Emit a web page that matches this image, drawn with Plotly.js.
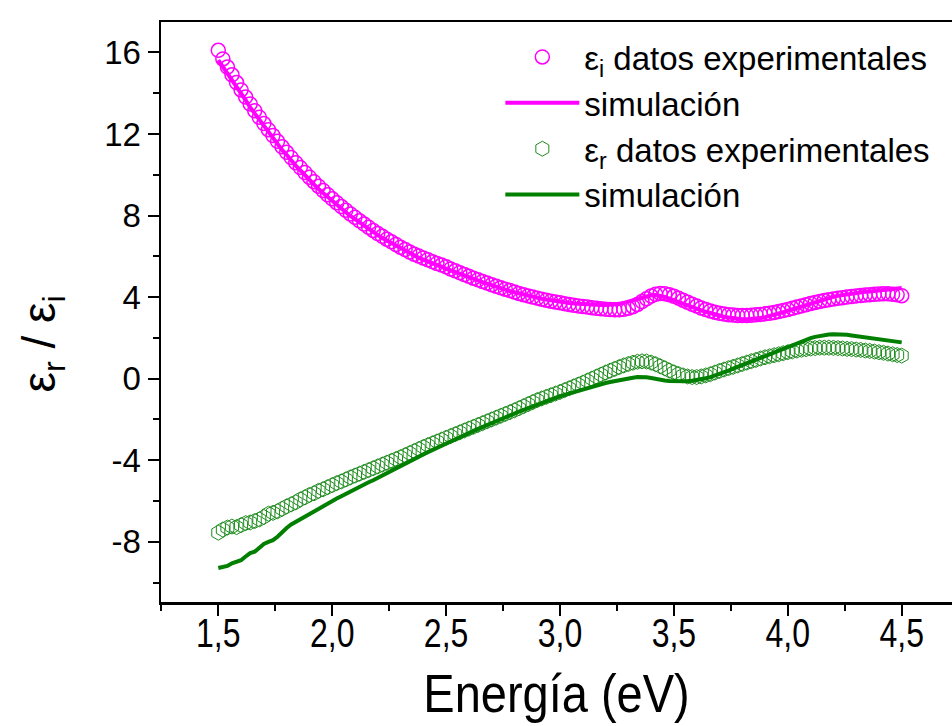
<!DOCTYPE html>
<html>
<head>
<meta charset="utf-8">
<script src="https://cdn.plot.ly/plotly-3.0.1.min.js"></script>
<style>html,body{margin:0;padding:0;background:#fff;}#chart{width:952px;height:726px;}</style>
</head>
<body>
<div id="chart"></div>
<script>
// Photon energy (eV)
const energy = [
1.50,1.52,1.54,1.56,1.58,1.60,1.62,1.64,1.66,1.68,
1.70,1.72,1.74,1.76,1.78,1.80,1.82,1.84,1.86,1.88,
1.90,1.92,1.94,1.96,1.98,2.00,2.02,2.04,2.06,2.08,
2.10,2.12,2.14,2.16,2.18,2.20,2.22,2.24,2.26,2.28,
2.30,2.32,2.34,2.36,2.38,2.40,2.42,2.44,2.46,2.48,
2.50,2.52,2.54,2.56,2.58,2.60,2.62,2.64,2.66,2.68,
2.70,2.72,2.74,2.76,2.78,2.80,2.82,2.84,2.86,2.88,
2.90,2.92,2.94,2.96,2.98,3.00,3.02,3.04,3.06,3.08,
3.10,3.12,3.14,3.16,3.18,3.20,3.22,3.24,3.26,3.28,
3.30,3.32,3.34,3.36,3.38,3.40,3.42,3.44,3.46,3.48,
3.50,3.52,3.54,3.56,3.58,3.60,3.62,3.64,3.66,3.68,
3.70,3.72,3.74,3.76,3.78,3.80,3.82,3.84,3.86,3.88,
3.90,3.92,3.94,3.96,3.98,4.00,4.02,4.04,4.06,4.08,
4.10,4.12,4.14,4.16,4.18,4.20,4.22,4.24,4.26,4.28,
4.30,4.32,4.34,4.36,4.38,4.40,4.42,4.44,4.46,4.48,
4.50];

// epsilon_i experimental
const epsI_exp = [
16.10,15.68,15.28,14.90,14.52,14.16,13.81,13.47,13.14,12.82,
12.51,12.21,11.92,11.64,11.37,11.10,10.84,10.59,10.35,10.11,
9.88,9.66,9.44,9.23,9.02,8.82,8.63,8.44,8.26,8.08,
7.91,7.74,7.58,7.42,7.27,7.12,6.98,6.84,6.71,6.58,
6.45,6.33,6.21,6.10,6.01,5.92,5.83,5.74,5.65,5.57,
5.49,5.38,5.29,5.20,5.11,5.02,4.93,4.85,4.77,4.69,
4.61,4.53,4.46,4.39,4.32,4.25,4.18,4.12,4.06,4.00,
3.95,3.90,3.85,3.80,3.76,3.72,3.68,3.64,3.60,3.57,
3.54,3.51,3.48,3.45,3.43,3.41,3.39,3.38,3.38,3.40,
3.45,3.53,3.64,3.78,3.92,4.05,4.14,4.18,4.17,4.12,
4.04,3.95,3.85,3.75,3.65,3.56,3.47,3.39,3.32,3.26,
3.21,3.17,3.14,3.12,3.10,3.10,3.10,3.11,3.13,3.15,
3.18,3.21,3.25,3.29,3.34,3.39,3.45,3.51,3.57,3.63,
3.69,3.74,3.79,3.83,3.87,3.91,3.94,3.97,4.00,4.03,
4.06,4.08,4.10,4.12,4.14,4.15,4.16,4.16,4.14,4.11,
4.07];

// epsilon_i simulation
const epsI_sim = [
15.62,15.30,14.98,14.70,14.30,13.98,13.66,13.30,13.00,12.72,
12.36,12.08,11.80,11.50,11.22,10.98,10.70,10.45,10.22,9.98,
9.74,9.54,9.30,9.10,8.90,8.70,8.52,8.32,8.16,7.98,
7.82,7.64,7.50,7.33,7.20,7.04,6.90,6.78,6.64,6.52,
6.38,6.28,6.15,6.05,5.93,5.84,5.74,5.66,5.56,5.49,
5.40,5.31,5.23,5.14,5.06,4.97,4.89,4.81,4.73,4.66,
4.58,4.51,4.44,4.37,4.30,4.24,4.18,4.12,4.07,4.01,
3.97,3.92,3.88,3.84,3.80,3.77,3.74,3.71,3.69,3.67,
3.65,3.63,3.62,3.61,3.61,3.61,3.62,3.64,3.67,3.72,
3.78,3.85,3.93,4.00,4.06,4.09,4.10,4.07,4.01,3.93,
3.84,3.75,3.66,3.57,3.49,3.42,3.35,3.28,3.21,3.15,
3.09,3.04,3.00,2.96,2.94,2.92,2.92,2.93,2.95,2.98,
3.02,3.07,3.13,3.19,3.26,3.33,3.40,3.48,3.56,3.63,
3.70,3.77,3.84,3.90,3.96,4.01,4.06,4.10,4.14,4.17,
4.20,4.23,4.26,4.28,4.31,4.33,4.36,4.38,4.41,4.43,
4.45];

// epsilon_r experimental
const epsR_exp = [
-7.55,-7.40,-7.30,-7.25,-7.28,-7.18,-7.08,-7.05,-6.98,-6.90,
-6.78,-6.62,-6.58,-6.50,-6.38,-6.26,-6.16,-6.06,-5.92,-5.82,
-5.70,-5.62,-5.50,-5.42,-5.32,-5.22,-5.12,-5.04,-4.94,-4.84,
-4.75,-4.66,-4.57,-4.48,-4.39,-4.30,-4.21,-4.12,-4.03,-3.94,
-3.85,-3.75,-3.65,-3.55,-3.45,-3.35,-3.26,-3.17,-3.08,-2.99,
-2.90,-2.81,-2.72,-2.63,-2.54,-2.45,-2.36,-2.27,-2.18,-2.09,
-2.00,-1.91,-1.82,-1.73,-1.64,-1.55,-1.45,-1.35,-1.25,-1.15,
-1.05,-0.97,-0.89,-0.81,-0.73,-0.65,-0.56,-0.47,-0.38,-0.29,
-0.20,-0.10,0.00,0.10,0.20,0.30,0.39,0.48,0.57,0.65,
0.72,0.78,0.83,0.85,0.84,0.79,0.71,0.61,0.51,0.40,
0.31,0.23,0.16,0.11,0.08,0.08,0.11,0.16,0.22,0.30,
0.38,0.45,0.52,0.58,0.65,0.72,0.79,0.86,0.92,0.99,
1.05,1.10,1.15,1.20,1.25,1.30,1.34,1.38,1.42,1.45,
1.48,1.50,1.52,1.52,1.52,1.51,1.50,1.48,1.46,1.45,
1.43,1.41,1.38,1.36,1.33,1.30,1.27,1.23,1.20,1.16,
1.13];

// epsilon_r simulation
const epsR_sim = [
-9.28,-9.25,-9.18,-9.05,-8.98,-8.90,-8.72,-8.55,-8.48,-8.30,
-8.10,-8.00,-7.92,-7.75,-7.52,-7.32,-7.15,-7.02,-6.92,-6.78,
-6.62,-6.48,-6.38,-6.24,-6.10,-5.98,-5.88,-5.76,-5.64,-5.52,
-5.42,-5.30,-5.20,-5.08,-4.98,-4.86,-4.74,-4.63,-4.52,-4.40,
-4.28,-4.17,-4.05,-3.94,-3.82,-3.71,-3.60,-3.49,-3.38,-3.27,
-3.16,-3.06,-2.96,-2.86,-2.76,-2.66,-2.56,-2.46,-2.36,-2.26,
-2.16,-2.07,-1.98,-1.89,-1.80,-1.71,-1.62,-1.53,-1.44,-1.35,
-1.26,-1.18,-1.10,-1.02,-0.94,-0.86,-0.79,-0.72,-0.65,-0.58,
-0.51,-0.45,-0.39,-0.33,-0.27,-0.21,-0.16,-0.11,-0.07,-0.03,
0.01,0.05,0.08,0.09,0.07,0.03,-0.02,-0.06,-0.09,-0.11,
-0.12,-0.13,-0.13,-0.12,-0.10,-0.07,-0.03,0.02,0.08,0.15,
0.23,0.31,0.40,0.49,0.58,0.67,0.76,0.85,0.94,1.03,
1.12,1.21,1.30,1.39,1.48,1.57,1.66,1.75,1.84,1.92,
1.99,2.05,2.10,2.14,2.17,2.18,2.18,2.17,2.15,2.12,
2.09,2.05,2.01,1.97,1.94,1.91,1.88,1.85,1.82,1.80,
1.78];

const xTickVals = [1.5, 2.0, 2.5, 3.0, 3.5, 4.0, 4.5];
const xTickText = ['1,5', '2,0', '2,5', '3,0', '3,5', '4,0', '4,5'];
const yTickVals = [-8, -4, 0, 4, 8, 12, 16];
const yTickText = ['-8', '-4', '0', '4', '8', '12', '16'];

const seriesNames = [
  'ε<sub>i</sub> datos experimentales',
  'simulación',
  'ε<sub>r</sub> datos experimentales',
  'simulación'
];

const MAGENTA = '#FF00FF';
const GREEN = '#007F00';
const HEXGREEN = '#1E8C1E';
const FONT = 'Liberation Sans, Arial, sans-serif';

const traces = [
  {x: energy, y: epsI_exp, name: seriesNames[0], type: 'scatter', mode: 'markers',
   marker: {symbol: 'circle-open', size: 14, color: MAGENTA, line: {width: 1.5, color: MAGENTA}}},
  {x: energy, y: epsI_sim, name: seriesNames[1], type: 'scatter', mode: 'lines',
   line: {color: MAGENTA, width: 4}},
  {x: energy, y: epsR_exp, name: seriesNames[2], type: 'scatter', mode: 'markers',
   marker: {symbol: 'hexagon-open', size: 15, color: HEXGREEN, line: {width: 1, color: HEXGREEN}}},
  {x: energy, y: epsR_sim, name: seriesNames[3], type: 'scatter', mode: 'lines',
   line: {color: GREEN, width: 4}}
];

const layout = {
  width: 952, height: 726,
  margin: {l: 161, r: 0, t: 22, b: 124, pad: 0},
  paper_bgcolor: '#fff', plot_bgcolor: '#fff',
  showlegend: true,
  legend: {x: 0.429, y: 0.988, xanchor: 'left', yanchor: 'top', bgcolor: 'rgba(0,0,0,0)',
           itemwidth: 74, font: {family: FONT, size: 33, color: '#000'}, traceorder: 'normal'},
  xaxis: {
    range: [1.2485, 4.7208], showgrid: false, zeroline: false,
    showline: true, linecolor: '#000', linewidth: 2.5, mirror: true,
    ticks: 'outside', ticklen: 11, tickwidth: 2, tickcolor: '#000',
    tickmode: 'array', tickvals: xTickVals, ticktext: xTickText,
    tickfont: {family: FONT, size: 40, color: '#000'}, ticklabelstandoff: -16,
    minor: {ticks: 'outside', ticklen: 6, tickwidth: 2, tickcolor: '#000', dtick: 0.25, tick0: 0, showgrid: false},
    title: {text: 'Energía (eV)', font: {family: FONT, size: 54, color: '#000'}, standoff: 20}
  },
  yaxis: {
    range: [-10.95, 17.49], showgrid: false, zeroline: false,
    showline: true, linecolor: '#000', linewidth: 2.5,
    ticks: 'outside', ticklen: 11, tickwidth: 2, tickcolor: '#000',
    tickmode: 'array', tickvals: yTickVals, ticktext: yTickText,
    tickfont: {family: FONT, size: 33, color: '#000'},
    minor: {ticks: 'outside', ticklen: 6, tickwidth: 2, tickcolor: '#000', dtick: 2, tick0: 0, showgrid: false},
    title: {text: 'ε<sub>r</sub> / ε<sub>i</sub>&nbsp;&nbsp;&nbsp;&nbsp;&nbsp;', font: {family: FONT, size: 46, color: '#000'}, standoff: 34}
  }
};

// horizontal condensing of the x-axis texts (the reference uses a narrow face)
function narrow(sel, k) {
  document.querySelectorAll(sel).forEach(function (t) {
    const x0 = parseFloat(t.getAttribute('x')) || 0;
    const tr = t.getAttribute('transform') || '';
    t.setAttribute('transform', tr + ' translate(' + x0 + ',0) scale(' + k + ',1) translate(' + (-x0) + ',0)');
  });
}

Plotly.newPlot('chart', traces, layout, {staticPlot: true}).then(function () {
  narrow('.xtick text', 0.8);
  narrow('.g-xtitle text', 0.87);
});
</script>
</body>
</html>
